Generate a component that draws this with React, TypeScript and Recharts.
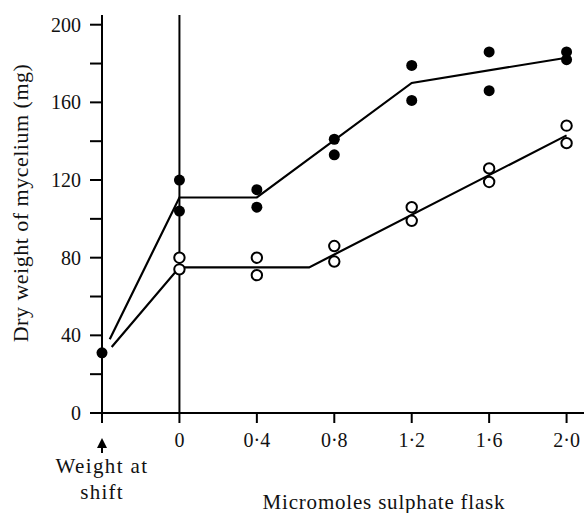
import { ComposedChart, Line, Scatter, XAxis, YAxis, ReferenceLine } from 'recharts';

// Micromoles sulphate per flask (x) and dry weight of mycelium in mg (y)
const doses = [0, 0.4, 0.8, 1.2, 1.6, 2.0];
const filledUpper = [120, 115, 141, 179, 186, 186];
const filledLower = [104, 106, 133, 161, 166, 182];
const openUpper = [80, 80, 86, 106, 126, 148];
const openLower = [74, 71, 78, 99, 119, 139];

const shiftX = -0.4;
const shiftWeight = 31;

// fitted lines
const filledFitX = [-0.36, 0, 0.4, 1.2, 2.0];
const filledFitY = [38, 111, 111, 170, 183];
const openFitX = [-0.35, 0, 0.67, 2.0];
const openFitY = [34, 75, 75, 143];

const xTicks = [-0.4, 0, 0.4, 0.8, 1.2, 1.6, 2.0];
const yTicks = [0, 20, 40, 60, 80, 100, 120, 140, 160, 180, 200];

const FONT = '"Liberation Serif", "Times New Roman", serif';

const pts = (xs: number[], ys: number[]) => xs.map((x, i) => ({ x, y: ys[i] }));

const filledPoints = [
  ...pts(doses, filledUpper),
  ...pts(doses, filledLower),
  { x: shiftX, y: shiftWeight },
];
const openPoints = [...pts(doses, openUpper), ...pts(doses, openLower)];

const FilledDot = (p: any) => <circle cx={p.cx} cy={p.cy} r={5.5} fill="#000" />;
const OpenDot = (p: any) => (
  <circle cx={p.cx} cy={p.cy} r={5.2} fill="#fff" stroke="#000" strokeWidth={2} />
);

function XTick({ x, y, payload }: any) {
  const v = payload.value;
  if (v < -0.1) {
    return (
      <g fontFamily={FONT} fontSize={21} fill="#111">
        <line x1={x} y1={y + 26} x2={x} y2={y + 17} stroke="#000" strokeWidth={2} />
        <polygon points={`${x},${y + 11} ${x - 5},${y + 21} ${x + 5},${y + 21}`} fill="#000" />
        <text x={x} y={y + 46} textAnchor="middle" letterSpacing={1.4}>
          Weight at
        </text>
        <text x={x} y={y + 72} textAnchor="middle" letterSpacing={1.2}>
          shift
        </text>
      </g>
    );
  }
  const label = v === 0 ? '0' : v.toFixed(1).replace('.', '·');
  return (
    <text x={x} y={y + 20} textAnchor="middle" fontFamily={FONT} fontSize={20} fill="#111">
      {label}
    </text>
  );
}

function YTitle({ viewBox }: any) {
  const cx = 28;
  const cy = viewBox.y + viewBox.height / 2 - 11;
  return (
    <text
      transform={`translate(${cx},${cy}) rotate(-90)`}
      textAnchor="middle"
      fontFamily={FONT}
      fontSize={22}
      letterSpacing={0.5}
      fill="#111"
    >
      Dry weight of mycelium (mg)
    </text>
  );
}

function XTitle({ viewBox }: any) {
  return (
    <text
      x={viewBox.x + 282}
      y={viewBox.y + 96}
      textAnchor="middle"
      fontFamily={FONT}
      fontSize={21}
      letterSpacing={0.8}
      fill="#111"
    >
      Micromoles sulphate flask
    </text>
  );
}

export default function App() {
  return (
    <div style={{ position: 'absolute', left: 0, top: 0, background: '#fff' }}>
      <ComposedChart width={584} height={513} margin={{ top: 15, right: 0, bottom: 0, left: 0 }}>
        <XAxis
          type="number"
          dataKey="x"
          domain={[-0.4, 2.09]}
          ticks={xTicks}
          tick={<XTick />}
          tickSize={10}
          tickMargin={4}
          height={100}
          stroke="#000"
          strokeWidth={2}
          label={<XTitle />}
        />
        <YAxis
          type="number"
          dataKey="y"
          domain={[0, 205]}
          ticks={yTicks}
          tickFormatter={(v: number) => (v % 40 === 0 ? String(v) : '')}
          tick={{ fontFamily: FONT, fontSize: 20, fill: '#111' }}
          tickSize={12}
          tickMargin={9}
          width={102}
          stroke="#000"
          strokeWidth={2}
          label={<YTitle />}
        />
        <ReferenceLine x={0} stroke="#000" strokeWidth={2} />
        <Line
          data={pts(filledFitX, filledFitY)}
          dataKey="y"
          type="linear"
          stroke="#000"
          strokeWidth={2.2}
          dot={false}
          activeDot={false}
          isAnimationActive={false}
        />
        <Line
          data={pts(openFitX, openFitY)}
          dataKey="y"
          type="linear"
          stroke="#000"
          strokeWidth={2.2}
          dot={false}
          activeDot={false}
          isAnimationActive={false}
        />
        <Scatter data={openPoints} dataKey="y" shape={<OpenDot />} isAnimationActive={false} />
        <Scatter data={filledPoints} dataKey="y" shape={<FilledDot />} isAnimationActive={false} />
      </ComposedChart>
    </div>
  );
}
